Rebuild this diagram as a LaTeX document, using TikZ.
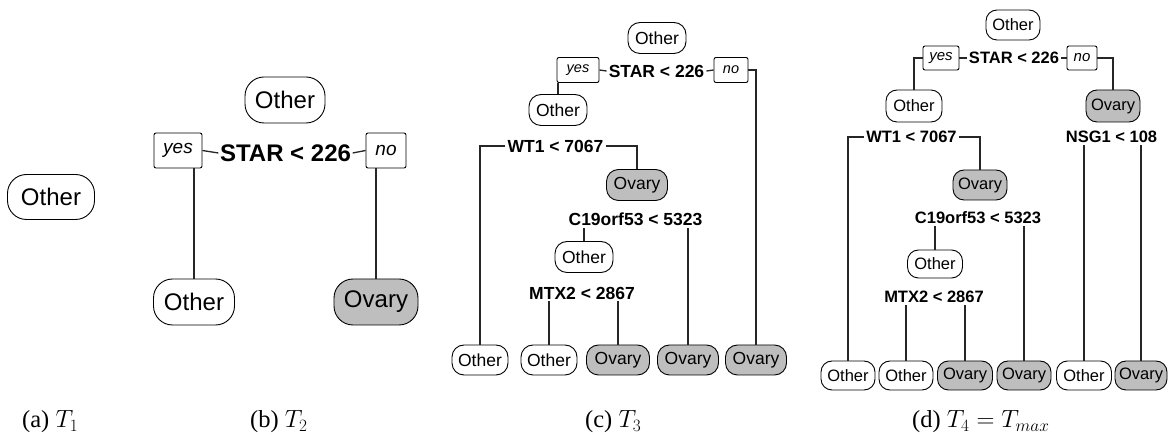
\documentclass[tikz,border=0pt]{standalone}
\usepackage{fontspec}
\setmainfont{Liberation Serif}
\newfontfamily\arial{Liberation Sans}
\definecolor{ovgray}{RGB}{190,190,190}
\newcommand\fA{\arial\fontsize{24}{28}\selectfont}
\newcommand\fC{\arial\fontsize{17.5}{20}\selectfont}
\newcommand\fD{\arial\fontsize{16.5}{19}\selectfont}
\newcommand\yB{\arial\itshape\fontsize{19}{22}\selectfont}
\newcommand\yC{\arial\itshape\fontsize{14.5}{17}\selectfont}
\newcommand\yD{\arial\itshape\fontsize{15}{17}\selectfont}
\tikzset{
  leaf/.style={draw=black, line width=0.9pt, inner sep=0pt, fill=white, text=black},
  ovary/.style={leaf, fill=ovgray},
  sizeA/.style={minimum width=84pt, minimum height=45pt, rounded corners=19pt, font=\fA},
  sizeC/.style={minimum width=58pt, minimum height=31pt, rounded corners=12pt, font=\fC},
  sizeD/.style={minimum width=54pt, minimum height=30pt, rounded corners=11pt, font=\fD},
  yn/.style={draw=black, line width=0.9pt, rounded corners=2pt, inner sep=0pt, fill=white},
  ynB/.style={yn, minimum height=35pt, font=\yB},
  ynC/.style={yn, minimum height=25pt, font=\yC},
  ynD/.style={yn, minimum height=24pt, font=\yD},
  splitB/.style={inner sep=1.5pt, font=\fA\bfseries},
  splitC/.style={inner sep=2pt, font=\fC\bfseries},
  splitD/.style={inner sep=2pt, font=\fD\bfseries},
  edge/.style={line width=1.3pt, draw=black!85},
  captxt/.style={anchor=base west, inner sep=0pt, font=\fontsize{24.5}{28}\selectfont}
}
\begin{document}
\begin{tikzpicture}[x=1pt, y=-1pt]
\useasboundingbox (0,0) rectangle (1168,435);
% ---------- (a)
\node[leaf, sizeA, minimum width=87pt] (a0) at (51,197) {Other};
% ---------- (b)
\node[leaf, sizeA, minimum width=80pt, minimum height=46pt] (b0) at (285,100) {Other};
\node[ynB, minimum width=48pt] (yesB) at (178,150.5) {yes};
\node[splitB] (splitB) at (285.5,153) {STAR < 226};
\node[ynB, minimum width=40pt] (noB) at (386,150.5) {no};
\node[leaf, sizeA, minimum width=81pt, minimum height=46pt] (lfB1) at (194,302) {Other};
\node[ovary, sizeA, minimum width=84pt, minimum height=46pt] (lfB2) at (376,302) {Ovary};
\draw[edge] (yesB.east) -- (splitB.west);
\draw[edge] (splitB.east) -- (noB.west);
\draw[edge] (lfB1.north) -- (lfB1.north |- yesB.south);
\draw[edge] (lfB2.north) -- (lfB2.north |- noB.south);
% ---------- (c)
\node[leaf, sizeC] (c0) at (657,38) {Other};
\node[ynC, minimum width=42pt] (yesC) at (578,70) {yes};
\node[splitC] (splitC) at (656.5,71) {STAR < 226};
\node[ynC, minimum width=34pt] (noC) at (731,70) {no};
\node[leaf, sizeC] (cO2) at (558,110) {Other};
\node[splitC] (wt1C) at (555.5,146) {WT1 < 7067};
\node[ovary, sizeC, minimum width=61pt] (cOv) at (637,185) {Ovary};
\node[splitC] (c19C) at (635.5,219) {C19orf53 < 5323};
\node[leaf, sizeC] (cO3) at (584,257) {Other};
\node[splitC] (mtxC) at (582,293) {MTX2 < 2867};
\node[leaf, sizeC, minimum width=56pt, minimum height=30pt] (cL1) at (480,360) {Other};
\node[leaf, sizeC, minimum width=56pt, minimum height=30pt] (cL2) at (549,360) {Other};
\node[ovary, sizeC, minimum width=63pt, minimum height=30pt] (cL3) at (618,360) {Ovary};
\node[ovary, sizeC, minimum width=61pt, minimum height=30pt] (cL4) at (688,360) {Ovary};
\node[ovary, sizeC, minimum width=61pt, minimum height=30pt] (cL5) at (756,360) {Ovary};
\draw[edge] (yesC.east) -- (splitC.west);
\draw[edge] (splitC.east) -- (noC.west);
\draw[edge] (cO2.north) -- (cO2.north |- yesC.south);
\draw[edge] (noC.east) -| (cL5.north);
\draw[edge] (wt1C.west) -| (cL1.north);
\draw[edge] (wt1C.east) -| (cOv.north);
\draw[edge] (cO3.north) -- (cO3.north |- c19C.south);
\draw[edge] (cL4.north) -- (cL4.north |- c19C.south);
\draw[edge] (cL2.north) -- (cL2.north |- mtxC.south);
\draw[edge] (cL3.north) -- (cL3.north |- mtxC.south);
% ---------- (d)
\node[leaf, sizeD] (d0) at (1013,25) {Other};
\node[ynD, minimum width=36pt] (yesD) at (941,58) {yes};
\node[splitD] (splitD) at (1014,58) {STAR < 226};
\node[ynD, minimum width=30pt] (noD) at (1082,58) {no};
\node[leaf, sizeD, minimum width=56pt, minimum height=32pt] (dO2) at (914,106) {Other};
\node[ovary, sizeD, minimum height=32pt] (dOv2) at (1113,106) {Ovary};
\node[splitD] (wt1D) at (911.5,137) {WT1 < 7067};
\node[splitD] (nsgD) at (1111.5,137) {NSG1 < 108};
\node[ovary, sizeD] (dOv3) at (980,185) {Ovary};
\node[splitD] (c19D) at (978,218) {C19orf53 < 5323};
\node[leaf, sizeD, minimum width=55pt, minimum height=28pt] (dO3) at (935,264) {Other};
\node[splitD] (mtxD) at (934,297) {MTX2 < 2867};
\node[leaf, sizeD, minimum height=29pt] (dL1) at (848,375.5) {Other};
\node[leaf, sizeD, minimum height=29pt] (dL2) at (906,375.5) {Other};
\node[ovary, sizeD, minimum height=29pt, minimum width=55pt] (dL3) at (965,375.5) {Ovary};
\node[ovary, sizeD, minimum height=29pt] (dL4) at (1024,375.5) {Ovary};
\node[leaf, sizeD, minimum height=29pt, minimum width=55pt] (dL5) at (1084,375.5) {Other};
\node[ovary, sizeD, minimum height=29pt, minimum width=52pt] (dL6) at (1141,375.5) {Ovary};
\draw[edge] (yesD.east) -- (splitD.west);
\draw[edge] (splitD.east) -- (noD.west);
\draw[edge] (yesD.west) -| (dO2.north);
\draw[edge] (noD.east) -| (dOv2.north);
\draw[edge] (wt1D.west) -| (dL1.north);
\draw[edge] (wt1D.east) -| (dOv3.north);
\draw[edge] (dL5.north) -- (dL5.north |- nsgD.south);
\draw[edge] (dL6.north) -- (dL6.north |- nsgD.south);
\draw[edge] (dO3.north) -- (dO3.north |- c19D.south);
\draw[edge] (dL4.north) -- (dL4.north |- c19D.south);
\draw[edge] (dL2.north) -- (dL2.north |- mtxD.south);
\draw[edge] (dL3.north) -- (dL3.north |- mtxD.south);
% ---------- captions
\node[captxt] (capA) at (22,428) {(a) $T_1$};
\node[captxt] (capB) at (250,428) {(b) $T_2$};
\node[captxt] (capC) at (585,428) {(c) $T_3$};
\node[captxt] (capD) at (912,428) {(d) $T_4 = T_{max}$};
\end{tikzpicture}
\end{document}
